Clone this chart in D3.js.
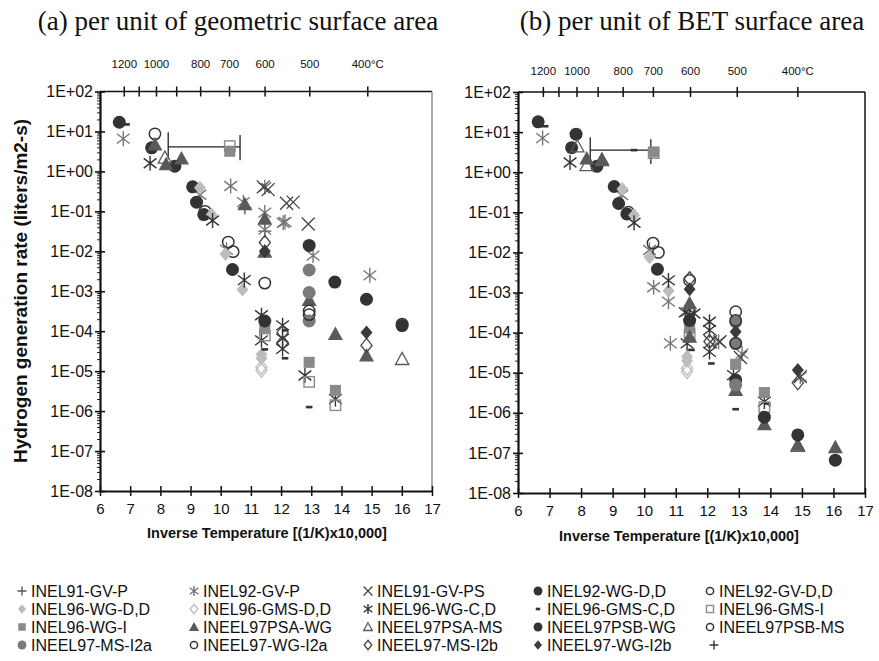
<!DOCTYPE html>
<html><head><meta charset="utf-8">
<script src="https://cdn.jsdelivr.net/npm/d3@7"></script>
<style>
body{margin:0;background:#fff}
svg text{font-family:"Liberation Sans",Arial,Helvetica,sans-serif;fill:#111}
</style>
</head><body>
<svg id="chart" width="879" height="661"></svg>
<script>
// ---------------- data ----------------
const seriesNames = ["INEL91-GV-P","INEL92-GV-P","INEL91-GV-PS","INEL92-WG-D,D","INEL92-GV-D,D",
  "INEL96-WG-D,D","INEL96-GMS-D,D","INEL96-WG-C,D","INEL96-GMS-C,D","INEL96-GMS-I",
  "INEL96-WG-I","INEEL97PSA-WG","INEEL97PSA-MS","INEEL97PSB-WG","INEEL97PSB-MS",
  "INEEL97-MS-I2a","INEEL97-WG-I2a","INEEL97-MS-I2b","INEEL97-WG-I2b",""];
const seriesSymbols = ["plus","star","cross","circleF","circleO",
  "diamondF","diamondO","star","dash","squareO",
  "squareF","triF","triO","circleF","circleO",
  "circleF","circleO","diamondO","diamondF","plus"];
const seriesColors = ["#555","#777","#444","#333","#333",
  "#bdbdbd","#bdbdbd","#333","#333","#8a8a8a",
  "#8a8a8a","#5a5a5a","#5a5a5a","#333","#333",
  "#7a7a7a","#333","#444","#3a3a3a","#333"];

// inverse temperature [(1/K)x10,000], rate (liters/m2-s)
const inel91GVP_a = [[10.8,0.123],[11.46,0.032]];
const inel91GVP_b = [];
const inel92GVP_a = [[6.77,6.6],[9.31,0.26],[10.19,0.011],[10.33,0.43],[10.75,0.17],[11.46,0.40],[11.46,0.093],[11.46,0.035],[12.07,0.052],[12.13,0.054],[13.06,0.0078],[14.94,0.0025]];
const inel92GVP_b = [[6.78,7.1],[9.29,0.27],[10.17,0.0115],[10.3,0.00135],[10.77,5.9e-4],[10.83,5.4e-5],[11.36,3.3e-4],[12.36,5.9e-5],[13.1,3.0e-5],[14.95,7.9e-6]];
const inel91GVPS_a = [[11.41,0.41],[11.57,0.35],[12.18,0.16],[12.4,0.17],[12.9,0.048]];
const inel91GVPS_b = [[12.1,5.9e-5],[12.4,5.9e-5],[13.05,2.4e-5],[14.95,8.0e-6]];
const inel92WGDD_a = [[6.64,17],[7.71,3.9],[8.48,1.35],[9.07,0.41],[9.2,0.17],[9.44,0.083],[10.39,0.0035]];
const inel92WGDD_b = [[6.64,18],[7.7,4.1],[7.84,8.9],[8.5,1.4],[9.05,0.44],[9.19,0.166],[9.45,0.091],[10.42,0.0038]];
const inel92GVDD_a = [[7.82,8.7],[9.48,0.10],[10.25,0.017],[10.41,0.0098],[11.46,0.0016]];
const inel92GVDD_b = [[9.5,0.10],[10.28,0.017],[10.45,0.010]];
const inel96WGDD_a = [[9.31,0.39],[9.7,0.083],[10.16,0.0085],[10.72,0.0011],[11.35,2.6e-5],[11.35,2.1e-5]];
const inel96WGDD_b = [[9.31,0.38],[9.68,0.085],[10.17,0.0076],[10.77,0.0011],[11.36,2.5e-5],[11.36,2.0e-5]];
const inel96GMSDD_a = [[11.35,1.26e-5],[11.35,1.05e-5]];
const inel96GMSDD_b = [[11.36,1.3e-5],[11.36,1.07e-5]];
const inel96WGCD_a = [[7.66,1.6],[9.73,0.059],[10.78,0.0019],[11.35,2.5e-4],[11.35,5.9e-5],[12.05,1.4e-4],[12.05,6.5e-5],[12.05,3.6e-5],[12.79,7.8e-6],[13.8,2.0e-6]];
const inel96WGCD_b = [[7.65,1.74],[9.68,0.055],[10.77,0.002],[11.3,3.2e-4],[11.44,2.75e-4],[11.58,3.0e-4],[11.36,5.4e-5],[12.07,1.86e-4],[12.07,1.15e-4],[12.07,3.3e-5],[12.83,8.7e-6],[13.81,1.9e-6]];
const inel96GMSCD_a = [[6.88,15],[11.46,3.5e-5],[12.13,1.05e-4],[12.13,2.1e-5],[12.93,1.26e-6],[13.85,2.8e-6]];
const inel96GMSCD_b = [[6.86,14],[9.68,3.55],[11.5,3.7e-5],[12.13,1.7e-5],[12.9,1.23e-6],[13.9,1.7e-6]];
const inel96GMSI_a = [[10.3,4.3],[11.46,7.8e-5],[12.93,5.4e-6],[13.8,1.4e-6]];
const inel96GMSI_b = [[10.3,3.0],[11.44,9.0e-5],[13.81,1.38e-6]];
const inel96WGI_a = [[10.3,3.2],[11.46,1.15e-4],[12.93,1.66e-5],[13.8,3.3e-6]];
const inel96WGI_b = [[10.3,3.2],[11.44,1.29e-4],[12.9,1.62e-5],[13.81,3.2e-6]];
const ineel97PSAWG_a = [[7.82,4.7],[8.19,1.5],[8.7,2.1],[10.8,0.15],[11.46,0.065],[11.46,0.0098],[12.93,6.0e-4],[13.8,8.5e-5],[14.83,2.45e-5]];
const ineel97PSAWG_b = [[8.18,2.2],[8.66,2.1],[11.44,5.4e-4],[11.44,7.9e-5],[12.9,3.7e-6],[13.81,5.2e-7],[14.87,1.6e-7],[16.06,1.38e-7]];
const ineel97PSAMS_a = [[8.15,2.2],[16.01,2.0e-5]];
const ineel97PSAMS_b = [[7.88,4.4],[8.18,1.5],[8.66,2.0],[14.87,1.5e-7]];
const ineel97PSBWG_a = [[11.46,1.8e-4],[12.93,0.014],[13.78,0.0017],[14.83,6.3e-4],[16.01,1.38e-4]];
const ineel97PSBWG_b = [[11.44,2.0e-4],[12.9,6.6e-6],[13.81,7.8e-7],[14.87,2.8e-7],[16.06,6.6e-8]];
const ineel97PSBMS_a = [[12.93,3.2e-4],[16.01,1.5e-4]];
const ineel97PSBMS_b = [[11.44,2.0e-3],[12.9,3.3e-4]];
const ineel97MSI2a_a = [[12.93,0.0034],[12.93,9.3e-4],[12.93,1.8e-4]];
const ineel97MSI2a_b = [[12.9,1.86e-4],[12.9,5.4e-5],[12.9,4.9e-6]];
const ineel97WGI2a_a = [[12.93,2.6e-4]];
const ineel97WGI2a_b = [[12.9,5.4e-5],[12.9,2.0e-4]];
const ineel97MSI2b_a = [[11.46,0.0166],[12.05,9.3e-5],[12.05,5.2e-5],[14.83,4.4e-5]];
const ineel97MSI2b_b = [[11.44,0.0022],[12.07,6.0e-5],[14.87,5.6e-6]];
const ineel97WGI2b_a = [[11.46,0.010],[14.83,9.3e-5]];
const ineel97WGI2b_b = [[11.44,0.0012],[12.9,1.05e-4],[14.87,1.17e-5]];
const blank_a = [];
const blank_b = [];

// horizontal range bar: [xStart, xEnd, y, leftCapLow, leftCapHigh, rightCapLow, rightCapHigh]
const rangeBar_a = [8.26, 10.64, 4.1, 2.0, 9.5, 1.9, 8.1];
const rangeBar_b = [8.29, 10.21, 3.55, 1.8, 7.4, 1.6, 6.6];

const xTicks = [6,7,8,9,10,11,12,13,14,15,16,17];
const yTicks = [1e2,1e1,1e0,1e-1,1e-2,1e-3,1e-4,1e-5,1e-6,1e-7,1e-8];
const celsiusTicks = [1200,1100,1000,900,800,700,600,500,400];
const celsiusLabels = ["1200","","1000","","800","700","600","500","400°C"];

const panelA = [inel91GVP_a,inel92GVP_a,inel91GVPS_a,inel92WGDD_a,inel92GVDD_a,inel96WGDD_a,inel96GMSDD_a,inel96WGCD_a,inel96GMSCD_a,inel96GMSI_a,inel96WGI_a,ineel97PSAWG_a,ineel97PSAMS_a,ineel97PSBWG_a,ineel97PSBMS_a,ineel97MSI2a_a,ineel97WGI2a_a,ineel97MSI2b_a,ineel97WGI2b_a,blank_a];
const panelB = [inel91GVP_b,inel92GVP_b,inel91GVPS_b,inel92WGDD_b,inel92GVDD_b,inel96WGDD_b,inel96GMSDD_b,inel96WGCD_b,inel96GMSCD_b,inel96GMSI_b,inel96WGI_b,ineel97PSAWG_b,ineel97PSAMS_b,ineel97PSBWG_b,ineel97PSBMS_b,ineel97MSI2a_b,ineel97WGI2a_b,ineel97MSI2b_b,ineel97WGI2b_b,blank_b];

// ---------------- drawing ----------------
const svg = d3.select("#chart");

function drawMarker(g, type, color, s) {
  const h = s/2;
  switch (type) {
    case "circleF": g.append("circle").attr("r",h).attr("fill",color); break;
    case "circleO": g.append("circle").attr("r",h-0.8).attr("fill","#fff").attr("fill-opacity",0).attr("stroke",color).attr("stroke-width",1.5); break;
    case "squareF": g.append("rect").attr("x",-h*0.85).attr("y",-h*0.85).attr("width",h*1.7).attr("height",h*1.7).attr("fill",color); break;
    case "squareO": g.append("rect").attr("x",-h*0.8).attr("y",-h*0.8).attr("width",h*1.6).attr("height",h*1.6).attr("fill","none").attr("stroke",color).attr("stroke-width",1.4); break;
    case "diamondF": g.append("path").attr("d",`M0,${-h}L${h*0.85},0L0,${h}L${-h*0.85},0Z`).attr("fill",color); break;
    case "diamondO": g.append("path").attr("d",`M0,${-h}L${h*0.8},0L0,${h}L${-h*0.8},0Z`).attr("fill","none").attr("stroke",color).attr("stroke-width",1.3); break;
    case "triF": g.append("path").attr("d",`M0,${-h}L${h},${h*0.8}L${-h},${h*0.8}Z`).attr("fill",color); break;
    case "triO": g.append("path").attr("d",`M0,${-h+0.8}L${h-0.8},${h*0.8-0.6}L${-h+0.8},${h*0.8-0.6}Z`).attr("fill","none").attr("stroke",color).attr("stroke-width",1.3); break;
    case "plus": g.append("path").attr("d",`M0,${-h}V${h}M${-h},0H${h}`).attr("stroke",color).attr("stroke-width",1.4).attr("fill","none"); break;
    case "cross": g.append("path").attr("d",`M${-h},${-h}L${h},${h}M${-h},${h}L${h},${-h}`).attr("stroke",color).attr("stroke-width",1.3).attr("fill","none"); break;
    case "star": g.append("path").attr("d",`M0,${-h}V${h}M${-h*0.85},${-h*0.65}L${h*0.85},${h*0.65}M${-h*0.85},${h*0.65}L${h*0.85},${-h*0.65}`).attr("stroke",color).attr("stroke-width",1.4).attr("fill","none"); break;
    case "dash": g.append("rect").attr("x",-h*0.55).attr("y",-1.3).attr("width",h*1.1).attr("height",2.6).attr("fill",color); break;
  }
}
const markerSize = {circleF:13,circleO:13,squareF:13,squareO:13,diamondF:14,diamondO:14,triF:15,triO:15,plus:13,cross:13,star:15,dash:12};

const fmtExp = v => {
  const e = Math.round(Math.log10(v));
  return "1E" + (e >= 0 ? "+" : "-") + String(Math.abs(e)).padStart(2,"0");
};

function drawPanel(cfg, data, bar) {
  const x = d3.scaleLinear().domain([6,17]).range([cfg.x0, cfg.x1]);
  const y = d3.scaleLog().domain([1e-8,1e2]).range([cfg.y1, cfg.y0]);
  const g = svg.append("g");

  // title
  svg.append("text").attr("x",cfg.tx).attr("y",30).attr("text-anchor","middle")
    .style("font-family",'"Liberation Serif","Times New Roman",serif').style("font-size","27px").text(cfg.title);

  // frame
  g.append("line").attr("x1",cfg.x0).attr("x2",cfg.x1).attr("y1",cfg.y0).attr("y2",cfg.y0).attr("stroke","#111").attr("stroke-width",1.5);
  g.append("line").attr("x1",cfg.x1).attr("x2",cfg.x1).attr("y1",cfg.y0).attr("y2",cfg.y1).attr("stroke",cfg.rightColor).attr("stroke-width",1.5);

  // minor y ticks
  const minor = [];
  for (let e = -8; e < 2; e++) for (let m = 2; m <= 9; m++) minor.push(m * Math.pow(10, e));
  const minorAxis = g.append("g").attr("transform",`translate(${cfg.x0},0)`)
    .call(d3.axisLeft(y).tickValues(minor).tickSize(3).tickFormat(""));
  minorAxis.select(".domain").remove();
  minorAxis.selectAll(".tick line").attr("stroke","#222").attr("stroke-width",1);

  // major y axis
  const yAxis = g.append("g").attr("transform",`translate(${cfg.x0},0)`)
    .call(d3.axisLeft(y).tickValues(yTicks).tickFormat(fmtExp).tickSizeInner(5).tickSizeOuter(0).tickPadding(2));
  yAxis.select(".domain").attr("stroke","#111").attr("stroke-width",2.2);
  yAxis.selectAll(".tick line").attr("x1",-5).attr("x2",5).attr("stroke","#111").attr("stroke-width",1.6);
  yAxis.selectAll(".tick text").style("font-size","16px").attr("fill","#111");

  // x axis
  const xAxis = g.append("g").attr("transform",`translate(0,${cfg.y1})`)
    .call(d3.axisBottom(x).tickValues(xTicks).tickFormat(d3.format("d")).tickSizeInner(5).tickSizeOuter(0).tickPadding(7));
  xAxis.select(".domain").attr("stroke","#111").attr("stroke-width",2.2);
  xAxis.selectAll(".tick line").attr("y1",-5).attr("y2",5).attr("stroke","#111").attr("stroke-width",1.5);
  xAxis.selectAll(".tick text").style("font-size","15px").attr("fill","#111");

  // top celsius axis
  const inv = c => 10000 / (c + 273.15);
  const tAxis = g.append("g").attr("transform",`translate(0,${cfg.y0})`)
    .call(d3.axisTop(x).tickValues(celsiusTicks.map(inv)).tickSize(5).tickFormat((d,i) => celsiusLabels[i]).tickPadding(cfg.celsPad));
  tAxis.select(".domain").remove();
  tAxis.selectAll(".tick line").attr("y1",-5).attr("y2",5).attr("stroke","#111").attr("stroke-width",1.5);
  tAxis.selectAll(".tick text").style("font-size","11.5px").attr("fill","#111");

  // range bar
  const bg = g.append("g").attr("stroke","#222").attr("stroke-width",1.3).attr("fill","none");
  bg.append("line").attr("x1",x(bar[0])).attr("x2",x(bar[1])).attr("y1",y(bar[2])).attr("y2",y(bar[2]));
  bg.append("line").attr("x1",x(bar[0])).attr("x2",x(bar[0])).attr("y1",y(bar[3])).attr("y2",y(bar[4]));
  bg.append("line").attr("x1",x(bar[1])).attr("x2",x(bar[1])).attr("y1",y(bar[5])).attr("y2",y(bar[6]));

  // points
  data.forEach((pts, si) => {
    const sym = seriesSymbols[si], col = seriesColors[si];
    pts.forEach(p => {
      const mg = g.append("g").attr("transform",`translate(${x(p[0])},${y(p[1])})`);
      drawMarker(mg, sym, col, markerSize[sym]);
    });
  });

  // x label
  svg.append("text").attr("x",cfg.lx).attr("y",cfg.ly).attr("text-anchor","middle")
    .style("font-size","14.5px").style("font-weight","bold").text("Inverse Temperature [(1/K)x10,000]");
}

drawPanel({title:"(a) per unit of geometric surface area", tx:238, x0:100, x1:432, y0:91.5, y1:491,
  rightColor:"#8c8c8c", celsPad:19, lx:267, ly:538}, panelA, rangeBar_a);
drawPanel({title:"(b) per unit of BET surface area", tx:692, x0:518, x1:865, y0:92, y1:493,
  rightColor:"#111", celsPad:12, lx:679, ly:541}, panelB, rangeBar_b);

// y label
svg.append("text").attr("transform","translate(27,291) rotate(-90)").attr("text-anchor","middle")
  .style("font-size","19px").style("font-weight","bold").text("Hydrogen generation rate (liters/m2-s)");

// legend
const legCols = [31, 203, 377, 547, 719];
const legRows = [597, 615, 633, 651];
const legend = svg.append("g");
seriesNames.forEach((name, i) => {
  const r = Math.floor(i / 5), c = i % 5;
  const lg = legend.append("g").attr("transform",`translate(${legCols[c]},${legRows[r]})`);
  const mg = lg.append("g").attr("transform",`translate(${i === 19 ? -5 : -9},-6)`);
  drawMarker(mg, seriesSymbols[i], seriesColors[i], markerSize[seriesSymbols[i]] * 0.68);
  lg.append("text").attr("x",0).attr("y",0).style("font-size","16px").text(name);
});
</script>
</body></html>
